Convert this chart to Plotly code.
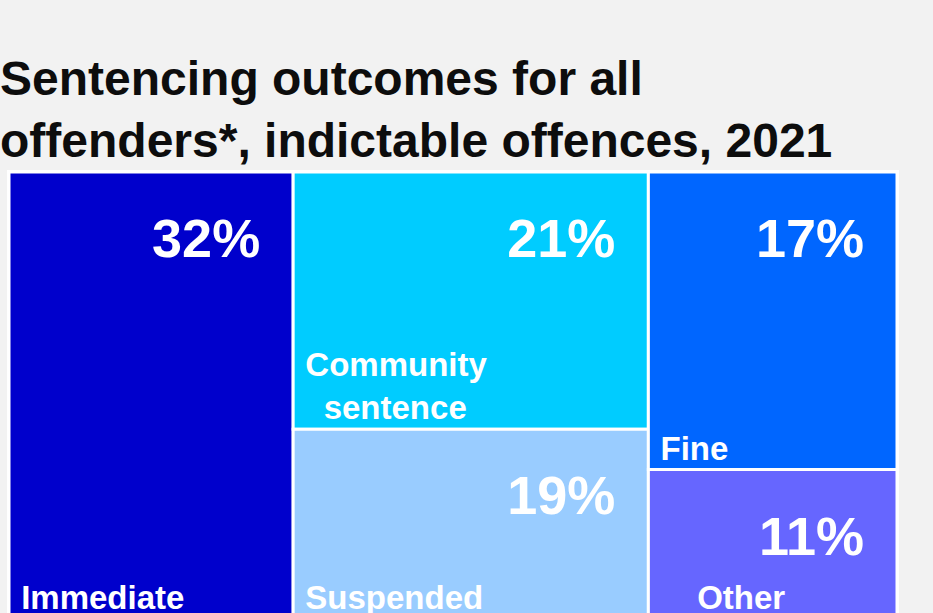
import plotly.graph_objects as go

NB = "\u00a0"

categories = ["Immediate custody", "Community sentence", "Suspended sentence", "Fine", "Other"]
label_lines = [["Immediate", "custody"], ["Community", "sentence"], ["Suspended", "sentence"], ["Fine"], ["Other", ""]]
shares = [32, 21, 19, 17, 11]
colors = ["#0000CC", "#00CCFF", "#99CCFF", "#0066FF", "#6666FF"]

ROOT = "All offenders"
ids = [ROOT] + categories
parents = [""] + [ROOT] * len(categories)
values = [0] + shares

W, H = 933, 700
FONT = "Liberation Sans, Arial, sans-serif"
LABEL_SIZE = 33

# approximate Arial Bold advance widths (em/1000) to centre two-line labels
AW = {c: 556 for c in "abcdeghnopqsuvxyz"}
AW.update({"i": 278, "l": 278, "j": 278, "f": 333, "t": 333, "r": 389, "m": 889, "w": 778, "k": 556,
           "C": 722, "I": 278, "S": 667, "F": 611, "O": 778})
NBW = 278


def text_w(s):
    return sum(AW.get(c, 600) for c in s)


common = dict(
    ids=ids,
    labels=ids,
    parents=parents,
    values=values,
    sort=True,
    tiling=dict(packing="squarify", squarifyratio=1, pad=0),
    pathbar=dict(visible=False),
    hoverinfo="skip",
    domain=dict(x=[0, 1], y=[0, 1]),
)

# percentage text (top right, inset a little)
pct_text = [""] + [f"<span style='font-size:13px'>{NB}</span><br>{v}%{NB}{NB}" for v in shares]

# category labels (bottom left, lines centred on each other)
lab_text = [""]
for lines in label_lines:
    if len(lines) == 2 and lines[1]:
        a, b = lines
        pad = max(0, round((text_w(a) - text_w(b)) / 2 / NBW))
        lab_text.append(f"{NB}{a}<br>{NB * (1 + pad)}{b}")
    elif len(lines) == 2:
        lab_text.append(f"{NB * 5}{lines[0]}<br>{NB}")
    else:
        lab_text.append(f"{NB}{lines[0]}")

fig = go.Figure()
fig.add_trace(go.Treemap(
    **common,
    marker=dict(
        colors=["white"] + colors,
        line=dict(color="white", width=[0] + [3] * len(categories)),
        pad=dict(t=2, l=2, r=2, b=2),
    ),
    text=pct_text,
    texttemplate="%{text}",
    textposition="top right",
    insidetextfont=dict(family=FONT, size=54, color="white", weight="bold"),
))
fig.add_trace(go.Treemap(
    **common,
    marker=dict(
        colors=["rgba(0,0,0,0)"] * len(ids),
        line=dict(width=0),
        pad=dict(t=2, l=2, r=2, b=2),
    ),
    text=lab_text,
    texttemplate="%{text}",
    textposition="bottom left",
    insidetextfont=dict(family=FONT, size=LABEL_SIZE, color="white", weight="bold"),
))

fig.update_layout(
    width=W, height=H,
    paper_bgcolor="#F2F2F2",
    plot_bgcolor="#F2F2F2",
    margin=dict(l=7, r=34, t=170, b=H - 664),
    title=dict(
        text="<b>Sentencing outcomes for all<br>offenders*, indictable offences, 2021</b>",
        font=dict(family=FONT, size=48, color="#0D0D0D"),
        x=0, xref="container", xanchor="left",
        y=1 - 95 / H, yref="container", yanchor="top",
    ),
    showlegend=False,
)

fig.write_html(
    "out.html",
    config={"displayModeBar": False},
    post_script="document.body.style.margin='0';document.body.style.background='#F2F2F2';",
)
